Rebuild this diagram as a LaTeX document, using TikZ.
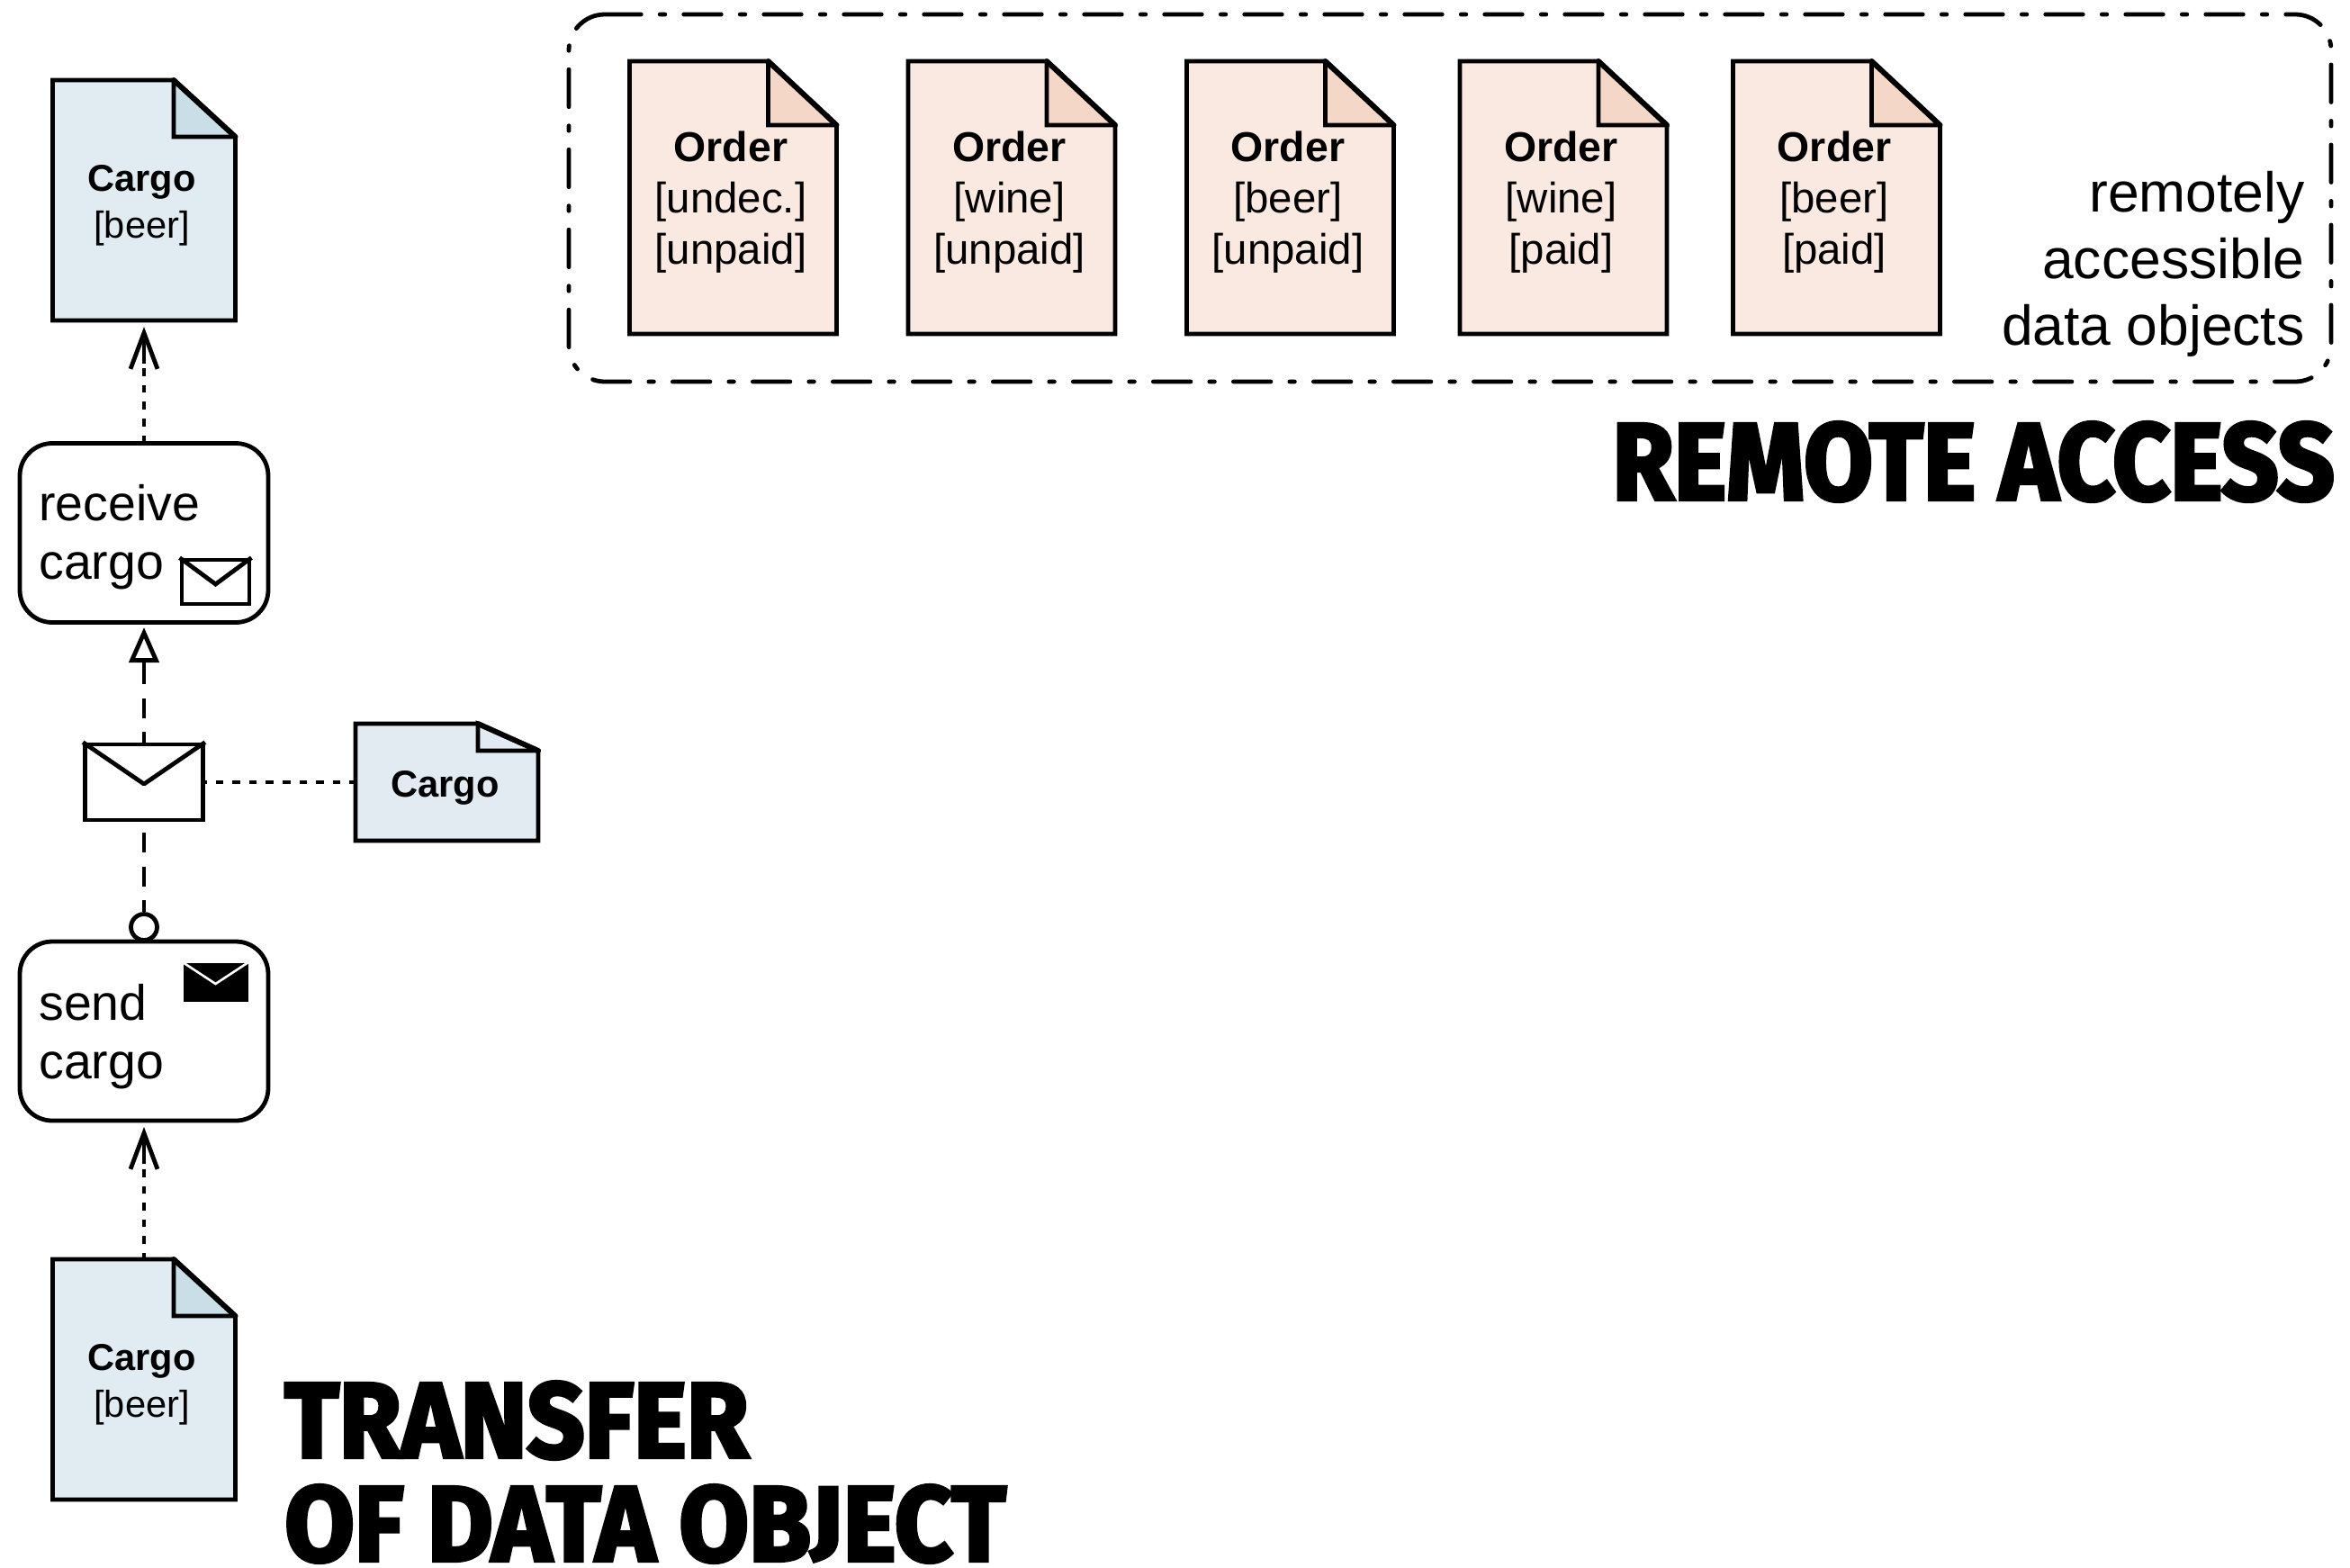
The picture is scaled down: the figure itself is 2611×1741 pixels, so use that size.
\documentclass[tikz,border=0pt]{standalone}
\usepackage{fontspec}
\usepackage{graphicx}
\setmainfont{Liberation Sans}
\newfontfamily\headfontbase[BoldFeatures={FakeBold=3.5}]{Fira Sans}
\newcommand\headfont{\headfontbase\bfseries}
\usetikzlibrary{arrows.meta,fit,calc}
\definecolor{cargobody}{HTML}{E0ECF1}
\definecolor{cargofold}{HTML}{C9DEE6}
\definecolor{msgbody}{HTML}{E2EAF2}
\definecolor{orderbody}{HTML}{FAE9E1}
\definecolor{orderfold}{HTML}{F5D7C8}
\tikzset{
  outline/.style={line width=2.4pt,line join=miter,miter limit=2,line cap=butt},
  taskbox/.style={draw,line width=2.4pt,rounded corners=18pt,minimum width=138pt,minimum height=99.5pt,inner sep=0pt,fill=white},
  envbox/.style={draw,line width=2.4pt,inner sep=0pt,fill=white},
  tasktext/.style={anchor=base west,inner sep=0pt,align=left,font=\fontsize{27.7}{32.5}\selectfont},
  ordertext/.style={anchor=base,inner sep=0pt,align=center,font=\fontsize{23.7}{28.4}\selectfont},
  cargotext/.style={anchor=base,inner sep=0pt,align=center,font=\fontsize{20.8}{26}\selectfont},
  notetext/.style={anchor=base east,inner sep=0pt,align=right,font=\fontsize{31.2}{36.8}\selectfont},
  headtext/.style={anchor=base west,inner sep=0pt,align=left,font=\fontsize{10}{57.5}\selectfont},
  dotline/.style={line width=2.4pt,dash pattern=on 4.3pt off 5pt},
  dashline/.style={line width=2.4pt,dash pattern=on 11pt off 7.8pt},
  stem/.style={line width=2.4pt,-{Straight Barb[length=20pt,width=15pt,line width=2.4pt]}},
  hollowtip/.style={line width=2.4pt,-{Triangle[open,length=19.5pt,width=16.5pt,fill=white,line width=2.4pt]}},
}
% name x0 y0 x1 y1 foldx foldy bodycolour foldcolour
\newcommand\docshape[9]{%
  \draw[outline,fill=#8] (#2,#3) -- (#6,#3) -- (#4,#7) -- (#4,#5) -- (#2,#5) -- cycle;
  \draw[outline,fill=#9] (#6,#3) -- (#4,#7) -- (#6,#7) -- cycle;
  \draw[outline,line width=3pt,line cap=round] (#6,#3) -- (#4,#7);
  \node[fit={(#2,#3) (#4,#5)},inner sep=0pt] (#1) {};
}
\newcommand\orderdoc[3]{% name left text
  \docshape{#1}{#2}{68}{#2+230}{371}{#2+154}{139}{orderbody}{orderfold}
  \node[ordertext] (#1t) at (#2+112.5,293) {#3};
}
\newcommand\orderhead{{\fontsize{23.2}{28.4}\selectfont\textbf{Order}}}
\begin{document}
\begin{tikzpicture}[x=0.5pt,y=-0.5pt]
\useasboundingbox (0,0) rectangle (2611,1741);
% remote access region
\draw[line width=2.4pt,line cap=round,rounded corners=20pt,dash pattern=on 20.75pt off 10.5pt on 2.75pt off 10.5pt]
  (717,16) -- (632,16) -- (632,424) -- (2590,424) -- (2590,16) -- cycle;
\orderdoc{oa}{699.5}{\orderhead\\{[undec.]}\\{[unpaid]}}
\orderdoc{ob}{1009}{\orderhead\\{[wine]}\\{[unpaid]}}
\orderdoc{oc}{1318.5}{\orderhead\\{[beer]}\\{[unpaid]}}
\orderdoc{od}{1622}{\orderhead\\{[wine]}\\{[paid]}}
\orderdoc{oe}{1925.5}{\orderhead\\{[beer]}\\{[paid]}}
\node[notetext] (note) at (2561,383) {remotely\\accessible\\data objects};
\node[anchor=base west,inner sep=0pt] (headra) at (1791,555) {\resizebox{401pt}{43pt}{\headfont REMOTE ACCESS}};
% transfer column
\docshape{cargotop}{58.5}{89}{261.5}{356}{193}{152}{cargobody}{cargofold}
\node[cargotext] at (157.5,264) (cargotopt) {\textbf{Cargo}\\{[beer]}};
\docshape{cargobot}{58.5}{1399}{261.5}{1666}{193}{1462}{cargobody}{cargofold}
\node[cargotext] at (157.5,1574) (cargobott) {\textbf{Cargo}\\{[beer]}};
\docshape{cargomsg}{395}{804}{598}{934}{531}{834}{msgbody}{msgbody}
\node[cargotext] at (494.5,885) (cargomsgt) {\textbf{Cargo}};
% tasks
\node[taskbox] (recv) at (160,592) {};
\node[tasktext] (recvt) at (43,643) {receive\\cargo};
\node[taskbox] (send) at (160,1145.5) {};
\node[tasktext] (sendt) at (43,1198) {send\\cargo};
% task icons
\node[envbox,minimum width=37.5pt,minimum height=24.5pt] (recvicon) at (239.5,646.5) {};
\draw[line width=2.4pt,line join=miter] (recvicon.north west) -- (239.5,649) -- (recvicon.north east);
\node[inner sep=0pt,fill=black,minimum width=36pt,minimum height=21.5pt] (sendicon) at (239.5,1091) {};
\draw[white,line width=1.3pt,line join=miter] (sendicon.north west) -- (239.5,1093) -- (sendicon.north east);
% message
\node[envbox,minimum width=65.5pt,minimum height=42pt] (msg) at (160,869) {};
\draw[line width=2.4pt,line join=round] (msg.north west) -- (160,871) -- (msg.north east);
\node[draw,circle,line width=2.4pt,fill=white,inner sep=0pt,minimum size=14.5pt] (start) at (160,1030) {};
% connectors
\coordinate (tipa) at (160,363);
\coordinate (basea) at (160,404);
\coordinate (tipb) at (160,1252);
\coordinate (baseb) at (160,1293);
\coordinate (tipc) at (160,697);
\coordinate (basec) at (160,738);
\draw[dotline,dash phase=1pt] (recv.north) -- (basea);
\draw[stem] (basea) -- (tipa);
\draw[dotline,dash phase=1pt] (cargobot.north) -- (baseb);
\draw[stem] (baseb) -- (tipb);
\draw[dashline] (basec) -- (msg.north);
\draw[hollowtip] (basec) -- (tipc);
\draw[dashline,shorten <=5.75pt] (msg.south) -- (start.north);
\draw[dotline,dash phase=3.5pt] (msg.east) -- (cargomsg.west);
% heading
\node[headtext] (headtr) at (316,1734) {\resizebox{257.5pt}{42pt}{\headfont TRANSFER}\\\resizebox{400.5pt}{42pt}{\headfont OF DATA OB\scalebox{1}[0.81]{\raisebox{0.16em}{J}}ECT}};
\end{tikzpicture}
\end{document}
